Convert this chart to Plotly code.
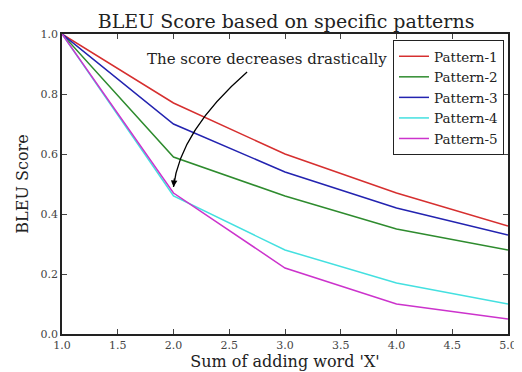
import plotly.graph_objects as go

x_vals = [1.0, 2.0, 3.0, 4.0, 5.0]
pattern_1 = [1.0, 0.77, 0.60, 0.47, 0.36]
pattern_2 = [1.0, 0.59, 0.46, 0.35, 0.28]
pattern_3 = [1.0, 0.70, 0.54, 0.42, 0.33]
pattern_4 = [1.0, 0.46, 0.28, 0.17, 0.10]
pattern_5 = [1.0, 0.47, 0.22, 0.10, 0.05]
series_names = ["Pattern-1", "Pattern-2", "Pattern-3", "Pattern-4", "Pattern-5"]
series_colors = ["#d62f2f", "#2e8b2e", "#2323b0", "#44e0e0", "#cc33cc"]

x_ticks = [1.0, 1.5, 2.0, 2.5, 3.0, 3.5, 4.0, 4.5, 5.0]
y_ticks = [0.0, 0.2, 0.4, 0.6, 0.8, 1.0]

annot_text = "The score decreases drastically"
annot_text_pos = (2.84, 0.917)
arrow_start = (2.66, 0.873)
arrow_ctrl = (2.06, 0.678)
arrow_end = (2.0, 0.49)

font_family = "DejaVu Serif, serif"

fig = go.Figure()
for name, ys, col in zip(series_names,
                         [pattern_1, pattern_2, pattern_3, pattern_4, pattern_5],
                         series_colors):
    fig.add_trace(go.Scatter(x=x_vals, y=ys, mode="lines", name=name,
                             line=dict(color=col, width=1.5)))

# curved arrow
fig.add_shape(type="path", xref="x", yref="y",
              path=f"M {arrow_start[0]} {arrow_start[1]} Q {arrow_ctrl[0]} {arrow_ctrl[1]} {arrow_end[0]} {arrow_end[1]}",
              line=dict(color="black", width=1.3))
fig.add_annotation(x=arrow_end[0], y=arrow_end[1], xref="x", yref="y",
                   ax=1, ay=-10, showarrow=True, arrowhead=2, arrowsize=1,
                   arrowwidth=1.3, arrowcolor="black", text="", standoff=0)
fig.add_annotation(x=annot_text_pos[0], y=annot_text_pos[1], xref="x", yref="y",
                   text=annot_text, showarrow=False,
                   font=dict(family=font_family, size=15, color="#222"))

axis_common = dict(showline=True, linecolor="#222", linewidth=1.5, mirror="ticks",
                   ticks="inside", ticklen=5, tickcolor="#444", showgrid=False,
                   zeroline=False, automargin=False,
                   tickfont=dict(family=font_family, size=11, color="#444"))

fig.update_layout(
    width=514, height=364,
    margin=dict(l=54, r=14, t=26, b=38),
    paper_bgcolor="white", plot_bgcolor="white",
    title=dict(text="BLEU Score based on specific patterns", x=0.541, xanchor="center",
               y=0.964, yanchor="middle", automargin=False,
               font=dict(family=font_family, size=19, color="#222")),
    xaxis=dict(range=[1.0, 5.0], tickvals=x_ticks,
               ticktext=[f"{v:.1f}" for v in x_ticks],
               title=dict(text="Sum of adding word 'X'", standoff=3,
                          font=dict(family=font_family, size=16, color="#222")),
               **axis_common),
    yaxis=dict(range=[0.0, 1.0], tickvals=y_ticks,
               ticktext=[f"{v:.1f}" for v in y_ticks],
               title=dict(text="BLEU Score", standoff=8,
                          font=dict(family=font_family, size=16, color="#222")),
               **axis_common),
    legend=dict(x=0.991, y=0.98, xanchor="right", yanchor="top",
                bgcolor="white", bordercolor="#222", borderwidth=1,
                font=dict(family=font_family, size=13.5, color="#222"),
                tracegroupgap=0, itemwidth=30),
    showlegend=True,
)

fig.write_html("out.html")
